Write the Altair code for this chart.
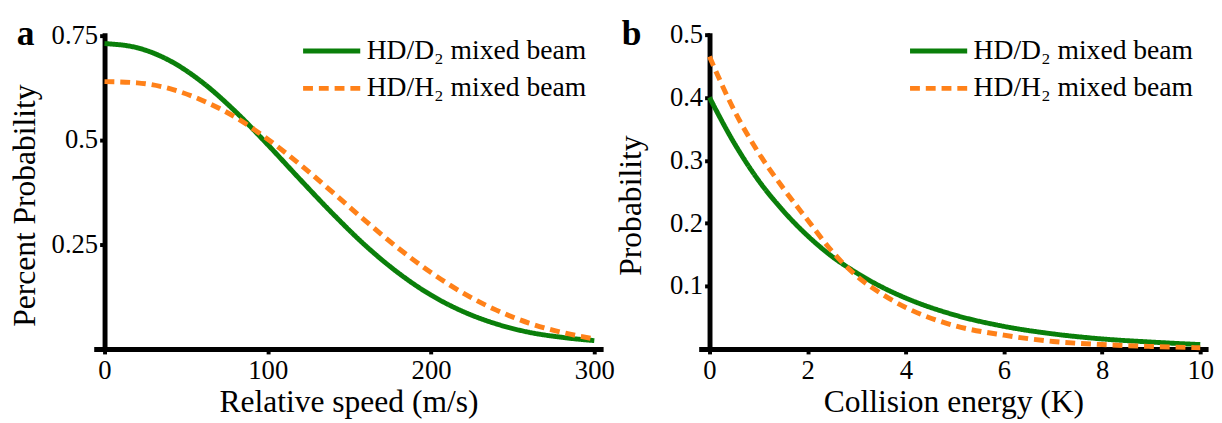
import altair as alt
import pandas as pd

FONT = "Liberation Serif"

series = ["HD/D\u2082 mixed beam", "HD/H\u2082 mixed beam"]
colors = ["#0a7f0a", "#ff8119"]

# Panel a: relative speed (m/s)
speed = [0, 20, 40, 60, 80, 100, 120, 140, 160, 180, 200, 220, 240, 260, 280, 300]
a_d2 = [0.731, 0.721, 0.690, 0.638, 0.569, 0.489, 0.405, 0.323, 0.247, 0.182,
        0.129, 0.089, 0.060, 0.040, 0.028, 0.020]
a_h2 = [0.640, 0.637, 0.623, 0.595, 0.555, 0.502, 0.441, 0.374, 0.306, 0.241,
        0.183, 0.133, 0.093, 0.062, 0.040, 0.024]

# Panel b: collision energy (K)
energy = [0, 0.5, 1, 1.5, 2, 2.5, 3, 3.5, 4, 5, 6, 7, 8, 9, 10]
b_d2 = [0.400, 0.328, 0.268, 0.220, 0.180, 0.147, 0.121, 0.099, 0.081,
        0.054, 0.036, 0.024, 0.016, 0.011, 0.007]
b_h2 = [0.465, 0.380, 0.312, 0.256, 0.205, 0.155, 0.116, 0.088, 0.066,
        0.037, 0.022, 0.012, 0.007, 0.004, 0.002]

a_xticks = [0, 100, 200, 300]
a_yticks = [0.25, 0.5, 0.75]
b_xticks = [0, 2, 4, 6, 8, 10]
b_yticks = [0.1, 0.2, 0.3, 0.4, 0.5]


def panel(x, d2, h2, xdom, ydom, xticks, yticks, xtitle, ytitle, letter,
          legx, ytp):
    df = pd.DataFrame({
        "x": list(x) + list(x),
        "y": list(d2) + list(h2),
        "beam": [series[0]] * len(x) + [series[1]] * len(x),
    })
    leg = alt.Legend(
        orient="none", legendX=legx, legendY=1.5, title=None,
        symbolType="M-2,0H2", symbolSize=841, symbolStrokeWidth=5,
        labelFont=FONT, labelFontSize=28, labelColor="black",
        labelOffset=18.5, rowPadding=7, labelLimit=400,
    )
    lines = alt.Chart(df).mark_line(strokeWidth=5, interpolate="monotone").encode(
        x=alt.X("x:Q", scale=alt.Scale(domain=xdom, nice=False, zero=False),
                axis=alt.Axis(values=xticks, title=xtitle,
                              labelExpr="toString(datum.value)",
                              labelPadding=4, titlePadding=3)),
        y=alt.Y("y:Q", scale=alt.Scale(domain=ydom, nice=False, zero=False),
                axis=alt.Axis(values=yticks, title=ytitle,
                              labelExpr="toString(datum.value)",
                              offset=-11, labelPadding=2, titlePadding=ytp,
                              titleY=175)),
        color=alt.Color("beam:N", scale=alt.Scale(domain=series, range=colors),
                        legend=leg),
        strokeDash=alt.StrokeDash("beam:N",
                                  scale=alt.Scale(domain=series, range=[[1, 0], [10, 6]]),
                                  legend=leg),
    )
    lab = alt.Chart(pd.DataFrame({"t": [letter]})).mark_text(
        font=FONT, fontSize=36, fontWeight="bold", align="left",
        baseline="alphabetic", color="black",
    ).encode(x=alt.value(-78), y=alt.value(12), text="t:N")
    return alt.layer(lines, lab).properties(width=517, height=321)


pa = panel(speed, a_d2, a_h2, [-6.6, 305.4], [0, 0.757], a_xticks, a_yticks,
           "Relative speed (m/s)", "Percent Probability", "a", 224.5, 10)
pb = panel(energy, b_d2, b_h2, [-0.22, 10.16], [0, 0.503], b_xticks, b_yticks,
           "Collision energy (K)", "Probability", "b", 226.5, 22)

chart = alt.hconcat(pa, pb, spacing=0).resolve_scale(
    x="independent", y="independent",
    color="independent", strokeDash="independent",
).resolve_legend(
    color="independent", strokeDash="independent"
).properties(
    padding={"left": 0, "top": 5, "right": 0, "bottom": 0}
).configure_view(stroke=None).configure_axis(
    grid=False, domainColor="black", domainWidth=5, tickColor="black",
    tickWidth=4, tickSize=5, labelFont=FONT, labelFontSize=27,
    labelColor="black", titleFont=FONT, titleFontSize=32,
    titleFontWeight="normal", titleColor="black",
).configure_legend(labelFont=FONT)

chart.save("out.html", embed_options={"renderer": "svg", "actions": False})
